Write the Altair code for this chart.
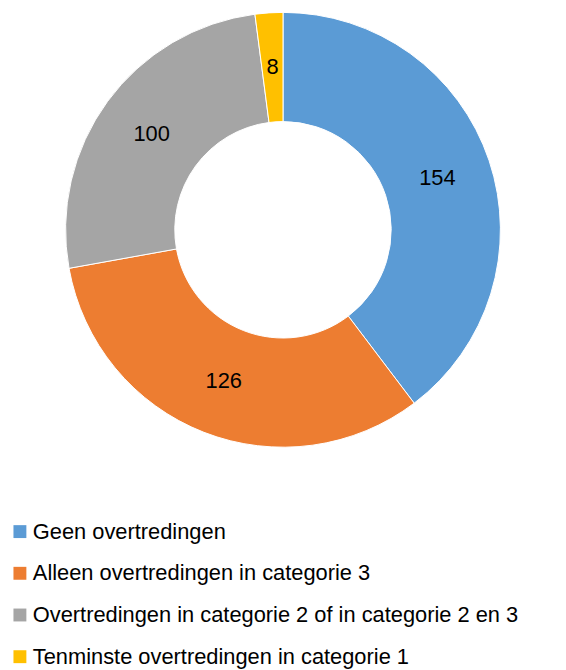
import altair as alt
import pandas as pd

categories = [
    "Geen overtredingen",
    "Alleen overtredingen in categorie 3",
    "Overtredingen in categorie 2 of in categorie 2 en 3",
    "Tenminste overtredingen in categorie 1",
]
values = [154, 126, 100, 8]
colors = ["#5B9BD5", "#ED7D31", "#A5A5A5", "#FFC000"]

df = pd.DataFrame({"cat": categories, "value": values, "order": list(range(len(values)))})

base = alt.Chart(df).encode(
    theta=alt.Theta("value:Q", stack=True),
    order=alt.Order("order:Q"),
)

arcs = base.mark_arc(innerRadius=109, outerRadius=219, stroke="white", strokeWidth=1).encode(
    color=alt.Color(
        "cat:N",
        scale=alt.Scale(domain=categories, range=colors),
        sort=categories,
        legend=alt.Legend(
            title=None,
            orient="none",
            legendX=1,
            legendY=514,
            direction="vertical",
            symbolType="square",
            symbolSize=169,
            symbolStrokeWidth=0,
            labelFontSize=22,
            labelFont="Liberation Sans",
            labelColor="black",
            rowPadding=20,
            labelOffset=2,
            labelLimit=600,
        ),
    )
)

labels = base.mark_text(radius=164, fontSize=22, font="Liberation Sans", color="black").encode(
    text=alt.Text("value:Q")
)

chart = (
    (arcs + labels)
    .properties(width=554, height=442, padding=0)
    .configure_view(stroke=None)
)

chart.save("out.html", embed_options={"renderer": "svg", "actions": False})
